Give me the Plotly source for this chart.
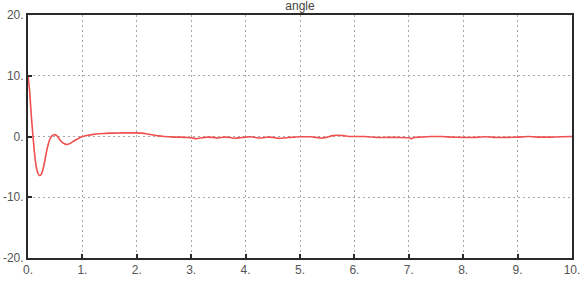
import plotly.graph_objects as go

t = [0.0, 0.03, 0.06, 0.09, 0.12, 0.15, 0.18, 0.21, 0.24, 0.27, 0.30, 0.33, 0.36, 0.40, 0.44, 0.48, 0.52, 0.56, 0.60, 0.65, 0.70, 0.75, 0.80, 0.85, 0.90, 0.95, 1.00,
     1.10, 1.20, 1.30, 1.40, 1.50, 1.60, 1.70, 1.80, 1.90, 2.00, 2.10, 2.20, 2.30, 2.40, 2.50, 2.60, 2.70, 2.80, 2.90, 3.00,
     3.10, 3.20, 3.30, 3.40, 3.50, 3.60, 3.70, 3.80, 3.90, 4.00, 4.10, 4.20, 4.30, 4.40, 4.50, 4.60, 4.70, 4.80, 4.90, 5.00,
     5.20, 5.40, 5.50, 5.60, 5.70, 5.80, 5.90, 6.00, 6.20, 6.40, 6.60, 6.80, 7.00, 7.05, 7.10, 7.20, 7.40, 7.60, 7.80, 8.00,
     8.20, 8.40, 8.60, 8.80, 9.00, 9.20, 9.40, 9.60, 9.80, 10.0]
angle = [10.0, 7.5, 3.5, 0.2, -2.8, -4.9, -6.0, -6.4, -6.3, -5.6, -4.4, -3.0, -1.7, -0.5, 0.1, 0.3, 0.2, -0.2, -0.7, -1.1, -1.3, -1.25, -1.0, -0.7, -0.45, -0.2, 0.0,
         0.2, 0.35, 0.45, 0.5, 0.55, 0.55, 0.6, 0.6, 0.6, 0.6, 0.55, 0.4, 0.25, 0.1, 0.0, -0.05, -0.1, -0.1, -0.15, -0.2,
         -0.35, -0.2, -0.1, -0.15, -0.25, -0.1, -0.15, -0.3, -0.2, -0.1, -0.05, -0.2, -0.25, -0.1, -0.15, -0.3, -0.25, -0.15, -0.1, -0.05,
         -0.05, -0.25, -0.1, 0.15, 0.2, 0.15, 0.0, 0.0, 0.0, -0.15, -0.15, -0.15, -0.2, -0.35, -0.15, -0.1, 0.0, 0.0, -0.1, -0.15,
         -0.15, -0.05, -0.15, -0.15, -0.1, 0.0, -0.1, -0.1, -0.05, 0.0]

x_ticks = [0, 1, 2, 3, 4, 5, 6, 7, 8, 9, 10]
x_labels = ["0.", "1.", "2.", "3.", "4.", "5.", "6.", "7.", "8.", "9.", "10."]
y_ticks = [-20, -10, 0, 10, 20]
y_labels = ["-20.", "-10.", "0.", "10.", "20."]

fig = go.Figure()
fig.add_trace(go.Scatter(x=t, y=angle, mode="lines", line=dict(color="#f05050", width=1.6, shape="spline", smoothing=0.6)))

axis_common = dict(
    showline=True, linecolor="#2a2a2a", linewidth=2, mirror=True,
    showgrid=True, gridcolor="#a8a8a8", griddash="2px,3px", gridwidth=1,
    ticks="inside", ticklen=4, tickwidth=2, tickcolor="#2a2a2a",
    zeroline=False, automargin=False,
    tickfont=dict(family="Liberation Sans, Arial", size=12, color="#555555"),
)
fig.update_xaxes(range=[0, 10], tickvals=x_ticks, ticktext=x_labels, **axis_common)
fig.update_yaxes(range=[-20, 20], tickvals=y_ticks, ticktext=y_labels, ticklabelstandoff=0, **axis_common)

fig.update_layout(
    width=584, height=284,
    margin=dict(l=28, r=12, t=15, b=26),
    paper_bgcolor="white", plot_bgcolor="white",
    showlegend=False,
    title=dict(text="angle", x=0.5, xref="paper", y=0.993, yref="container", yanchor="top",
               pad=dict(t=0, b=0, l=0, r=0),
               font=dict(family="Liberation Sans, Arial", size=12, color="#444444")),
)

fig.write_html("out.html")
